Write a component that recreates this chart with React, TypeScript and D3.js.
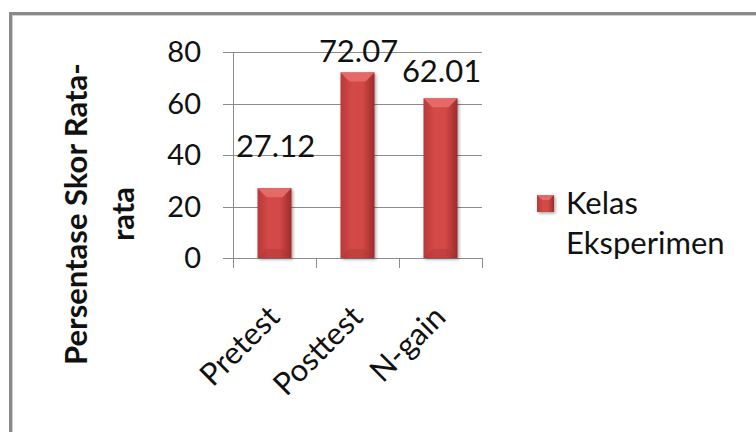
import { useEffect, useRef } from "react";
import * as d3 from "d3";

// chart data
const categories = ["Pretest", "Posttest", "N-gain"];
const values = [27.12, 72.07, 62.01];
const yTicks = [0, 20, 40, 60, 80];
const seriesName = ["Kelas", "Eksperimen"];
const yTitle = ["Persentase Skor Rata-", "rata"];

// how far each value label sits above its bar (Excel placed them unevenly)
const labelLift = [31, 10, 16];

const FONT = "Lato, 'Open Sans', sans-serif";

export default function App() {
  const svgRef = useRef<SVGSVGElement>(null);

  useEffect(() => {
    const width = 756;
    const height = 432;
    const plot = { left: 233, right: 482, top: 52, bottom: 258 };

    const svg = d3.select(svgRef.current)
      .attr("width", width)
      .attr("height", height)
      .style("background", "#fff");
    svg.selectAll("*").remove();

    const defs = svg.append("defs");
    const grad = defs.append("linearGradient")
      .attr("id", "barGrad")
      .attr("x1", "0").attr("x2", "1").attr("y1", "0").attr("y2", "0");
    grad.append("stop").attr("offset", "0%").attr("stop-color", "#b8393a");
    grad.append("stop").attr("offset", "35%").attr("stop-color", "#d54a48");
    grad.append("stop").attr("offset", "65%").attr("stop-color", "#d24846");
    grad.append("stop").attr("offset", "100%").attr("stop-color", "#9c2c2c");

    const shadow = defs.append("filter").attr("id", "shadow")
      .attr("x", "-30%").attr("y", "-10%").attr("width", "160%").attr("height", "130%");
    shadow.append("feDropShadow")
      .attr("dx", 1.5).attr("dy", 1.5).attr("stdDeviation", 1.5)
      .attr("flood-color", "#000").attr("flood-opacity", 0.35);

    // outer frame (runs past the right and bottom edges)
    svg.append("rect")
      .attr("x", 10.5).attr("y", 13.5)
      .attr("width", width + 20).attr("height", height + 20)
      .attr("fill", "none").attr("stroke", "#8a8a8a").attr("stroke-width", 3);
    svg.append("rect")
      .attr("x", 12.5).attr("y", 15.5)
      .attr("width", width + 20).attr("height", height + 20)
      .attr("fill", "none").attr("stroke", "#d0d0d0").attr("stroke-width", 1);

    const x = d3.scaleBand()
      .domain(categories)
      .range([plot.left, plot.right])
      .padding(0);

    const y = d3.scaleLinear()
      .domain([0, 80])
      .range([plot.bottom, plot.top]);

    // gridlines + y ticks
    svg.append("g")
      .selectAll("line")
      .data(yTicks)
      .join("line")
      .attr("x1", plot.left - 10)
      .attr("x2", plot.right)
      .attr("y1", (d) => Math.round(y(d)) + 0.5)
      .attr("y2", (d) => Math.round(y(d)) + 0.5)
      .attr("stroke", "#8c8c8c")
      .attr("stroke-width", 1);

    svg.append("g")
      .selectAll("text")
      .data(yTicks)
      .join("text")
      .attr("x", 201)
      .attr("y", (d) => y(d) + 10)
      .attr("text-anchor", "end")
      .attr("font-family", FONT)
      .attr("font-size", 29)
      .attr("fill", "#111")
      .text((d) => d);

    // y axis line
    svg.append("line")
      .attr("x1", plot.left + 0.5).attr("x2", plot.left + 0.5)
      .attr("y1", plot.top).attr("y2", plot.bottom)
      .attr("stroke", "#8c8c8c");

    // category ticks at band edges
    const edges = categories.map((c) => x(c) as number).concat([plot.right]);
    svg.append("g")
      .selectAll("line")
      .data(edges)
      .join("line")
      .attr("x1", (d) => Math.round(d) + 0.5)
      .attr("x2", (d) => Math.round(d) + 0.5)
      .attr("y1", plot.bottom)
      .attr("y2", plot.bottom + 10)
      .attr("stroke", "#8c8c8c");

    // bars
    const barW = x.bandwidth() * 0.41;
    const bevel = 9;
    const bars = svg.append("g")
      .selectAll("g")
      .data(values)
      .join("g")
      .attr("filter", "url(#shadow)");

    bars.each(function (d, i) {
      const g = d3.select(this);
      const x0 = (x(categories[i]) as number) + (x.bandwidth() - barW) / 2;
      const x1 = x0 + barW;
      const y0 = y(d);
      const y1 = y(0);
      g.append("rect")
        .attr("x", x0).attr("y", y0)
        .attr("width", barW).attr("height", y1 - y0)
        .attr("fill", "url(#barGrad)");
      // top bevel facet
      g.append("polygon")
        .attr("points", [[x0, y0], [x1, y0], [x1 - bevel, y0 + bevel], [x0 + bevel, y0 + bevel]].map((p) => p.join(",")).join(" "))
        .attr("fill", "#e46a68");
      // bottom bevel facet
      g.append("polygon")
        .attr("points", [[x0, y1], [x1, y1], [x1 - bevel, y1 - bevel], [x0 + bevel, y1 - bevel]].map((p) => p.join(",")).join(" "))
        .attr("fill", "#a93533").attr("opacity", 0.4);
    });

    // value labels
    svg.append("g")
      .selectAll("text")
      .data(values)
      .join("text")
      .attr("x", (d, i) => (x(categories[i]) as number) + x.bandwidth() / 2 + 1)
      .attr("y", (d, i) => y(d) - labelLift[i])
      .attr("text-anchor", "middle")
      .attr("font-family", FONT)
      .attr("font-size", 31)
      .attr("fill", "#111")
      .text((d) => d.toFixed(2));

    // category labels, rotated
    svg.append("g")
      .selectAll("text")
      .data(categories)
      .join("text")
      .attr("transform", (d) => `translate(${(x(d) as number) + x.bandwidth() / 2 + 7},${plot.bottom + 61}) rotate(-45)`)
      .attr("text-anchor", "end")
      .attr("font-family", FONT)
      .attr("font-size", 31)
      .attr("fill", "#111")
      .text((d) => d);

    // y axis title
    const title = svg.append("text")
      .attr("transform", "translate(87,214) rotate(-90)")
      .attr("text-anchor", "middle")
      .attr("font-family", FONT)
      .attr("font-size", 31)
      .attr("font-weight", "bold")
      .attr("fill", "#111");
    title.selectAll("tspan")
      .data(yTitle)
      .join("tspan")
      .attr("x", 0)
      .attr("dy", (d, i) => (i === 0 ? 0 : 47))
      .text((d) => d);

    // legend
    const lg = svg.append("g").attr("transform", "translate(537,195)");
    const m = 17;
    const mb = 5;
    lg.append("rect")
      .attr("width", m).attr("height", m)
      .attr("fill", "url(#barGrad)")
      .attr("filter", "url(#shadow)");
    lg.append("polygon")
      .attr("points", [[0, 0], [m, 0], [m - mb, mb], [mb, mb]].map((p) => p.join(",")).join(" "))
      .attr("fill", "#e46a68");
    lg.append("text")
      .attr("x", 29)
      .attr("y", 19)
      .attr("font-family", FONT)
      .attr("font-size", 31)
      .attr("fill", "#111")
      .selectAll("tspan")
      .data(seriesName)
      .join("tspan")
      .attr("x", 29)
      .attr("dy", (d, i) => (i === 0 ? 0 : 40))
      .text((d) => d);
  }, []);

  return (
    <div style={{ position: "fixed", left: 0, top: 0 }}>
      <svg ref={svgRef} />
    </div>
  );
}
